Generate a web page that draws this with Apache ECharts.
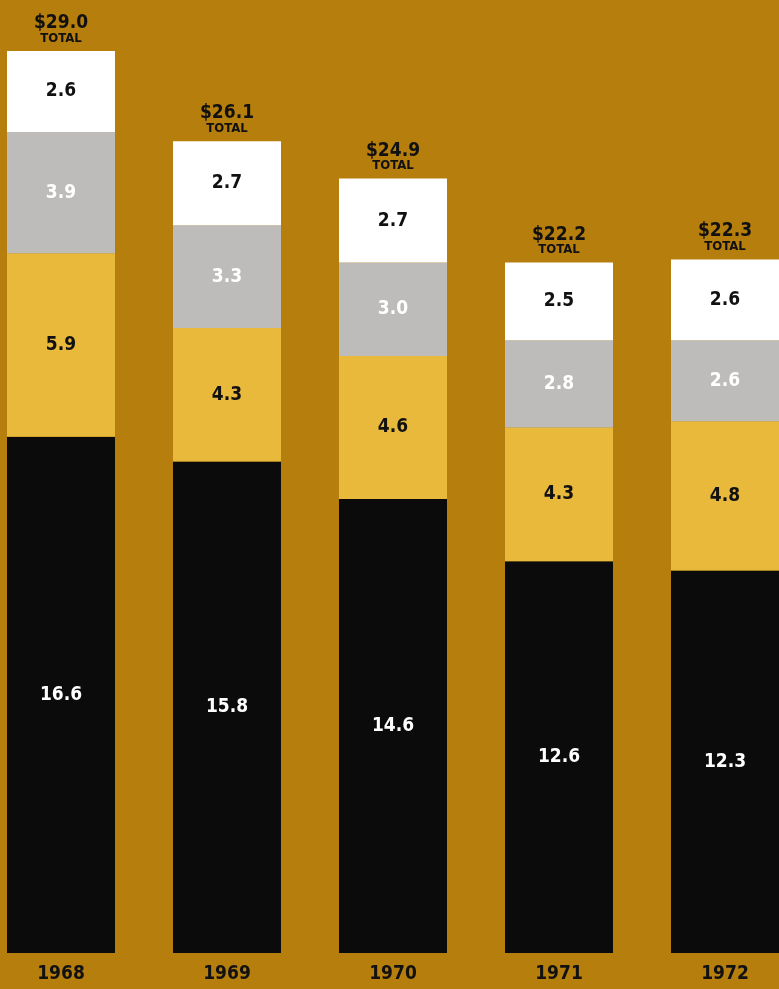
<!DOCTYPE html>
<html>
<head>
<meta charset="utf-8">
<script src="https://cdn.jsdelivr.net/npm/echarts@6/dist/echarts.min.js"></script>
<style>
  html, body { margin: 0; padding: 0; background: #b67e0c; overflow: hidden; }
  /* the chart is wider than the window: the 1972 bar is cut at the right edge */
  #main { position: absolute; left: -22px; top: 0; width: 830px; height: 989px; }
</style>
</head>
<body>
<div id="main"></div>
<script>
  var years = ['1968', '1969', '1970', '1971', '1972'];
  var blackVals = [16.6, 15.8, 14.6, 12.6, 12.3];
  var yellowVals = [5.9, 4.3, 4.6, 4.3, 4.8];
  var grayVals = [3.9, 3.3, 3.0, 2.8, 2.6];
  var whiteVals = [2.6, 2.7, 2.7, 2.5, 2.6];
  var totals = ['29.0', '26.1', '24.9', '22.2', '22.3'];

  var font = '"DejaVu Sans Condensed", "Liberation Sans Narrow", sans-serif';

  var myChart = echarts.init(document.getElementById('main'));

  function seg(name, data, color, textColor) {
    return {
      name: name,
      type: 'bar',
      stack: 'total',
      barWidth: 108,
      data: data,
      itemStyle: { color: color },
      label: {
        show: true,
        position: 'inside',
        color: textColor,
        fontFamily: font,
        fontWeight: 'bold',
        fontSize: 19,
        formatter: function (p) { return p.value.toFixed(1); }
      }
    };
  }

  var option = {
    backgroundColor: '#b67e0c',
    animation: false,
    grid: { left: 0, right: 0, top: 20, bottom: 36 },
    xAxis: {
      type: 'category',
      data: years,
      axisLine: { show: false },
      axisTick: { show: false },
      axisLabel: {
        color: '#111',
        fontFamily: font,
        fontWeight: 'bold',
        fontSize: 19,
        margin: 12
      }
    },
    yAxis: {
      type: 'value',
      min: 0,
      max: 30,
      show: false,
      splitLine: { show: false }
    },
    series: [
      seg('black', blackVals, '#0b0b0b', '#ffffff'),
      seg('yellow', yellowVals, '#e8b93a', '#111'),
      seg('gray', grayVals, '#bdbcbb', '#ffffff'),
      seg('white', whiteVals, '#ffffff', '#111'),
      {
        name: 'totalLabel',
        type: 'bar',
        stack: 'total',
        barWidth: 108,
        data: years.map(function () { return 0; }),
        itemStyle: { color: 'transparent' },
        label: {
          show: true,
          position: 'top',
          distance: 6,
          formatter: function (p) {
            return '{v|$' + totals[p.dataIndex] + '}\n{t|TOTAL}';
          },
          rich: {
            v: { fontFamily: font, fontWeight: 'bold', fontSize: 19, color: '#111', lineHeight: 18, align: 'center' },
            t: { fontFamily: font, fontWeight: 'bold', fontSize: 13, color: '#111', lineHeight: 13, align: 'center' }
          }
        }
      }
    ]
  };

  myChart.setOption(option);
</script>
</body>
</html>
